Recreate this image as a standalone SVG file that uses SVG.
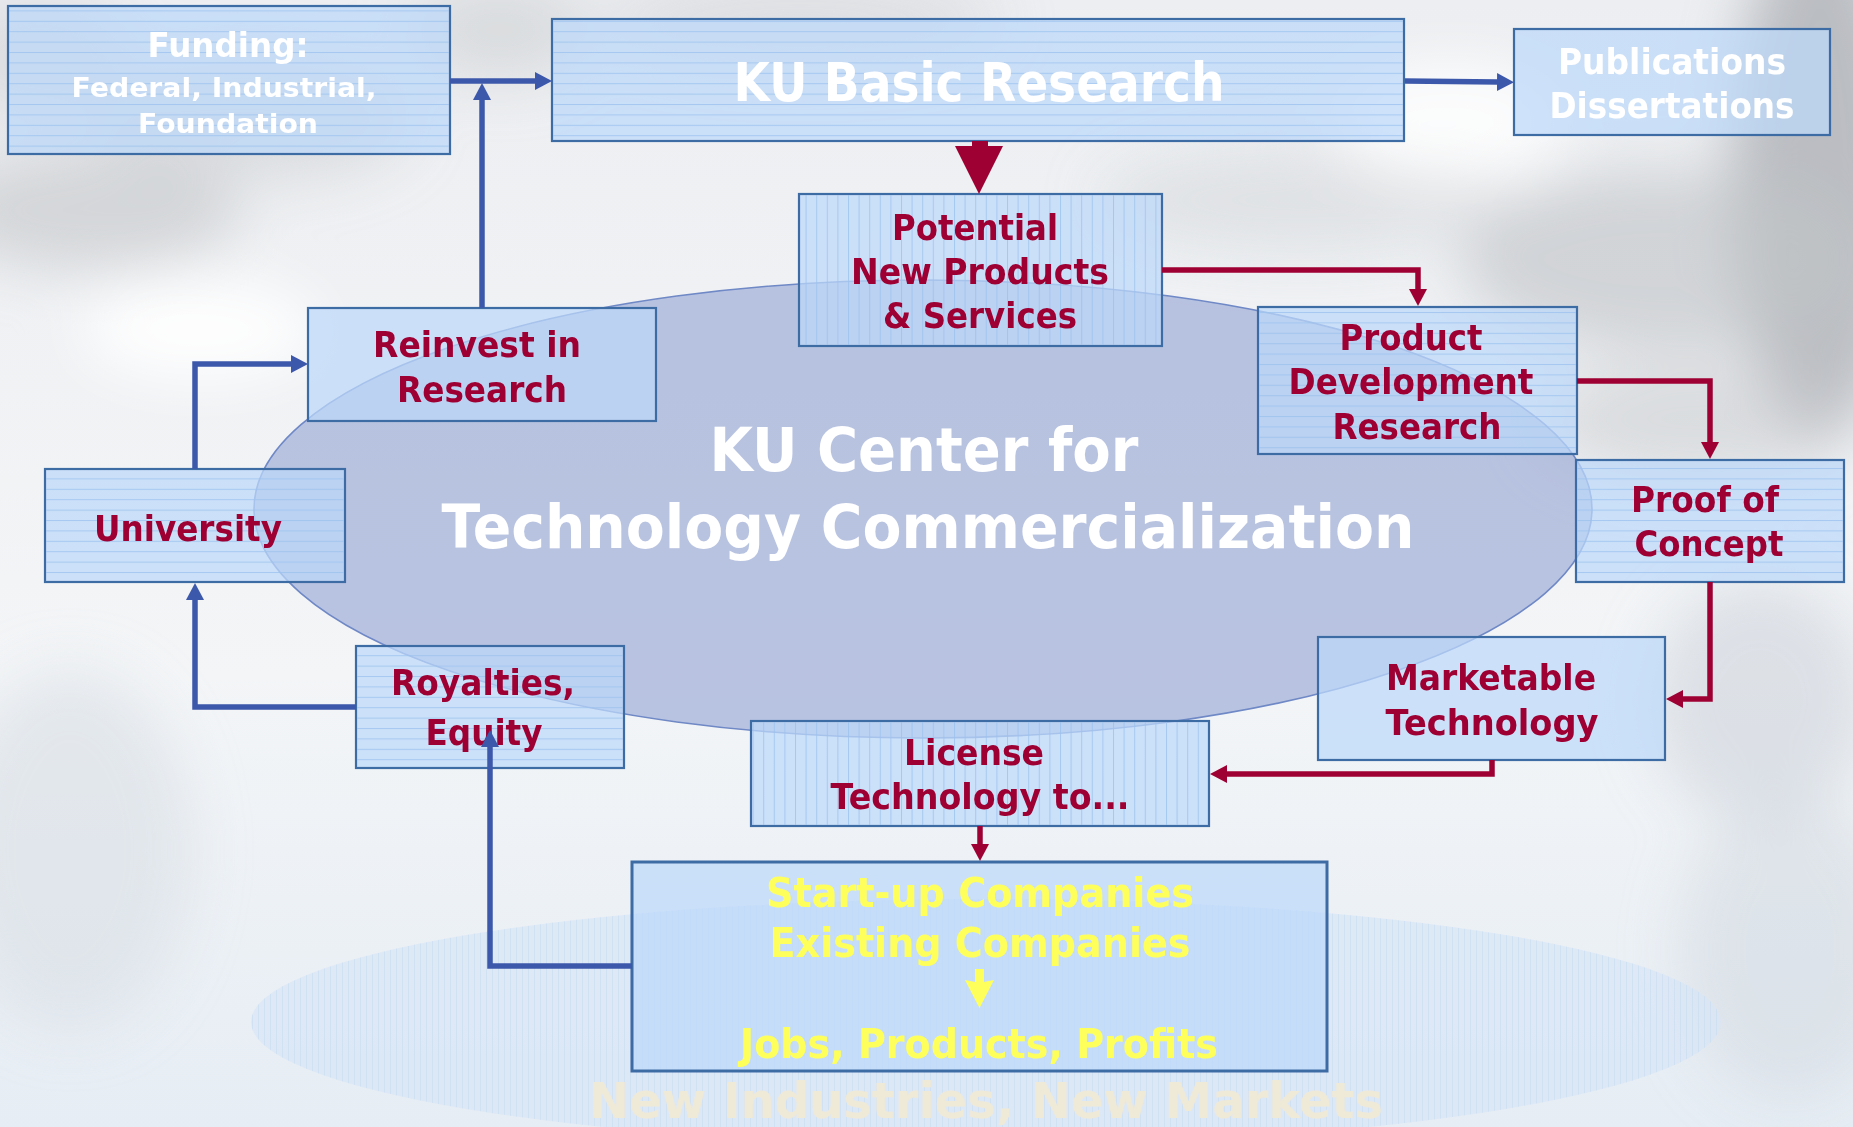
<svg xmlns="http://www.w3.org/2000/svg" width="1853" height="1127" viewBox="0 0 1853 1127">
<defs>
<style>
.box{fill:#bcd8fa;fill-opacity:.72;stroke:#3d6ba3;stroke-width:2.2}
.hs{fill:url(#hs);stroke:none}
.vs{fill:url(#vs);stroke:none}
.t{font-family:"DejaVu Sans","Liberation Sans",sans-serif;font-weight:bold;text-anchor:middle}
.red{fill:#9e0033}
.wh{fill:#ffffff}
.yl{fill:#ffff5c}
.bl{fill:none;stroke:#3c58ab;stroke-width:5.5;stroke-linejoin:miter}
.rd{fill:none;stroke:#9e0033;stroke-width:5.5;stroke-linejoin:miter}
</style>
<pattern id="hs" width="20" height="10.4" patternUnits="userSpaceOnUse">
<line x1="0" y1="0.5" x2="20" y2="0.5" stroke="#9cc2ee" stroke-width="1" stroke-opacity=".8"/>
</pattern>
<pattern id="vs" width="10.6" height="20" patternUnits="userSpaceOnUse">
<line x1="0.5" y1="0" x2="0.5" y2="20" stroke="#9cc2ee" stroke-width="1" stroke-opacity=".8"/>
</pattern>
<pattern id="vs2" width="6" height="20" patternUnits="userSpaceOnUse">
<line x1="0.5" y1="0" x2="0.5" y2="20" stroke="#c4daf2" stroke-width="1" stroke-opacity=".5"/>
</pattern>
<filter id="blur" x="-50%" y="-50%" width="200%" height="200%"><feGaussianBlur stdDeviation="28"/></filter>
<linearGradient id="sky" x1="0" y1="0" x2="0" y2="1">
<stop offset="0" stop-color="#eceef1"/>
<stop offset="0.6" stop-color="#f3f5f7"/>
<stop offset="1" stop-color="#e6edf4"/>
</linearGradient>
<marker id="ab" viewBox="0 0 17 18" markerWidth="17" markerHeight="18" refX="1" refY="9" orient="auto" markerUnits="userSpaceOnUse">
<path d="M0,0 L17,9 L0,18 Z" fill="#3c58ab"/>
</marker>
<marker id="ar" viewBox="0 0 17 18" markerWidth="17" markerHeight="18" refX="1" refY="9" orient="auto" markerUnits="userSpaceOnUse">
<path d="M0,0 L17,9 L0,18 Z" fill="#9e0033"/>
</marker>
</defs>

<!-- background sky -->
<g id="background">
<rect width="1853" height="1127" fill="url(#sky)"/>
<g filter="url(#blur)">
<ellipse cx="90" cy="210" rx="150" ry="60" fill="#c3c4c8" opacity=".6"/>
<ellipse cx="250" cy="120" rx="160" ry="60" fill="#c8cacd" opacity=".5"/>
<ellipse cx="40" cy="60" rx="90" ry="60" fill="#cbccd0" opacity=".5"/>
<ellipse cx="500" cy="30" rx="90" ry="50" fill="#c8c9cc" opacity=".5"/>
<ellipse cx="800" cy="20" rx="200" ry="40" fill="#cfd0d3" opacity=".5"/>
<ellipse cx="1820" cy="180" rx="90" ry="260" fill="#aeb0b5" opacity=".8"/>
<ellipse cx="1660" cy="260" rx="200" ry="90" fill="#c2c4c8" opacity=".65"/>
<ellipse cx="1700" cy="420" rx="160" ry="60" fill="#c8cacd" opacity=".55"/>
<ellipse cx="1300" cy="200" rx="200" ry="50" fill="#cfd1d4" opacity=".45"/>
<ellipse cx="1760" cy="700" rx="110" ry="120" fill="#cbd0d8" opacity=".55"/>
<ellipse cx="70" cy="850" rx="120" ry="180" fill="#d7dde4" opacity=".55"/>
<ellipse cx="1790" cy="950" rx="110" ry="150" fill="#d1d8e0" opacity=".55"/>
<ellipse cx="200" cy="330" rx="120" ry="50" fill="#ffffff" opacity=".9"/>
<ellipse cx="1450" cy="120" rx="120" ry="60" fill="#ffffff" opacity=".8"/>
</g>
</g>

<!-- bottom ellipse -->
<g id="markets">
<ellipse cx="986" cy="1022" rx="735" ry="123" fill="#d8e6f7" fill-opacity=".7"/>
<ellipse cx="986" cy="1022" rx="735" ry="123" fill="url(#vs2)"/>
<text class="t" x="986" y="1118" font-size="49" textLength="794" lengthAdjust="spacingAndGlyphs" fill="#efe9d8">New Industries, New Markets</text>
</g>

<!-- central ellipse -->
<g id="center">
<ellipse cx="923" cy="509" rx="669" ry="229" fill="#95a5d3" fill-opacity=".62" stroke="#6f88c6" stroke-width="1.6"/>
<text class="t wh" x="924" y="471" font-size="61" textLength="429" lengthAdjust="spacingAndGlyphs">KU Center for</text>
<text class="t wh" x="928" y="548" font-size="61" textLength="973" lengthAdjust="spacingAndGlyphs">Technology Commercialization</text>
</g>

<!-- nodes -->
<g id="funding">
<rect class="box" x="8" y="6" width="442" height="148"/>
<rect class="hs" x="9" y="7" width="440" height="146"/>
<text class="t wh" x="228" y="57" font-size="34" textLength="161" lengthAdjust="spacingAndGlyphs">Funding:</text>
<text class="t wh" x="224" y="97" font-size="26" textLength="305" lengthAdjust="spacingAndGlyphs">Federal, Industrial,</text>
<text class="t wh" x="228" y="133" font-size="26" textLength="180" lengthAdjust="spacingAndGlyphs">Foundation</text>
</g>

<g id="basic-research">
<rect class="box" x="552" y="19" width="852" height="122"/>
<rect class="hs" x="553" y="20" width="850" height="120"/>
<text class="t wh" x="979" y="101" font-size="53" textLength="491" lengthAdjust="spacingAndGlyphs">KU Basic Research</text>
</g>

<g id="publications">
<rect class="box" x="1514" y="29" width="316" height="106"/>
<text class="t wh" x="1672" y="74" font-size="36" textLength="228" lengthAdjust="spacingAndGlyphs">Publications</text>
<text class="t wh" x="1672" y="118" font-size="36" textLength="245" lengthAdjust="spacingAndGlyphs">Dissertations</text>
</g>

<g id="potential">
<rect class="box" x="799" y="194" width="363" height="152"/>
<rect class="vs" x="800" y="195" width="361" height="150"/>
<text class="t red" x="975" y="240" font-size="35" textLength="166" lengthAdjust="spacingAndGlyphs">Potential</text>
<text class="t red" x="980" y="284" font-size="35" textLength="258" lengthAdjust="spacingAndGlyphs">New Products</text>
<text class="t red" x="980" y="328" font-size="35" textLength="194" lengthAdjust="spacingAndGlyphs">&amp; Services</text>
</g>

<g id="reinvest">
<rect class="box" x="308" y="308" width="348" height="113"/>
<text class="t red" x="477" y="357" font-size="35" textLength="208" lengthAdjust="spacingAndGlyphs">Reinvest in</text>
<text class="t red" x="482" y="402" font-size="35" textLength="170" lengthAdjust="spacingAndGlyphs">Research</text>
</g>

<g id="product-development">
<rect class="box" x="1258" y="307" width="319" height="147"/>
<rect class="hs" x="1259" y="308" width="317" height="145"/>
<text class="t red" x="1411" y="350" font-size="35" textLength="143" lengthAdjust="spacingAndGlyphs">Product</text>
<text class="t red" x="1411" y="394" font-size="35" textLength="245" lengthAdjust="spacingAndGlyphs">Development</text>
<text class="t red" x="1417" y="439" font-size="35" textLength="169" lengthAdjust="spacingAndGlyphs">Research</text>
</g>

<g id="university">
<rect class="box" x="45" y="469" width="300" height="113"/>
<rect class="hs" x="46" y="470" width="298" height="111"/>
<text class="t red" x="188" y="541" font-size="35" textLength="188" lengthAdjust="spacingAndGlyphs">University</text>
</g>

<g id="proof">
<rect class="box" x="1576" y="460" width="268" height="122"/>
<rect class="hs" x="1577" y="461" width="266" height="120"/>
<text class="t red" x="1705" y="512" font-size="35" textLength="148" lengthAdjust="spacingAndGlyphs">Proof of</text>
<text class="t red" x="1709" y="556" font-size="35" textLength="149" lengthAdjust="spacingAndGlyphs">Concept</text>
</g>

<g id="royalties">
<rect class="box" x="356" y="646" width="268" height="122"/>
<rect class="hs" x="357" y="647" width="266" height="120"/>
<text class="t red" x="483" y="695" font-size="35" textLength="184" lengthAdjust="spacingAndGlyphs">Royalties,</text>
<text class="t red" x="484" y="745" font-size="35" textLength="117" lengthAdjust="spacingAndGlyphs">Equity</text>
</g>

<g id="marketable">
<rect class="box" x="1318" y="637" width="347" height="123"/>
<text class="t red" x="1491" y="690" font-size="35" textLength="210" lengthAdjust="spacingAndGlyphs">Marketable</text>
<text class="t red" x="1492" y="735" font-size="35" textLength="213" lengthAdjust="spacingAndGlyphs">Technology</text>
</g>

<g id="license">
<rect class="box" x="751" y="721" width="458" height="105"/>
<rect class="vs" x="752" y="722" width="456" height="103"/>
<text class="t red" x="974" y="765" font-size="35" textLength="140" lengthAdjust="spacingAndGlyphs">License</text>
<text class="t red" x="980" y="809" font-size="35" textLength="299" lengthAdjust="spacingAndGlyphs">Technology to...</text>
</g>

<g id="companies">
<rect class="box" x="632" y="862" width="695" height="209" style="stroke-width:3"/>
<text class="t yl" x="980" y="907" font-size="41" textLength="428" lengthAdjust="spacingAndGlyphs">Start-up Companies</text>
<text class="t yl" x="980" y="957" font-size="41" textLength="421" lengthAdjust="spacingAndGlyphs">Existing Companies</text>
<path d="M975,969 H984 V982 L994,980 L979.5,1008 L965,980 L975,982 Z" fill="#ffff5c"/>
<text class="t yl" x="979" y="1058" font-size="41" textLength="478" lengthAdjust="spacingAndGlyphs">Jobs, Products, Profits</text>
</g>

<!-- connectors -->
<g id="connectors">
<path class="bl" d="M450,81 H536" marker-end="url(#ab)"/>
<path class="bl" d="M482,308 V99" marker-end="url(#ab)"/>
<path class="bl" d="M1405,81 L1498,82" marker-end="url(#ab)"/>
<path class="bl" d="M195,469 V364 H292" marker-end="url(#ab)"/>
<path class="bl" d="M356,707 H195 V599" marker-end="url(#ab)"/>
<path class="bl" d="M632,966 H490 V746" marker-end="url(#ab)"/>
<path d="M972,141 H988 V146 H1003 L979,194 L955,146 H972 Z" fill="#9e0033"/>
<path class="rd" d="M1162,270 H1418 V290" marker-end="url(#ar)"/>
<path class="rd" d="M1577,381 H1710 V443" marker-end="url(#ar)"/>
<path class="rd" d="M1710,582 V699 H1682" marker-end="url(#ar)"/>
<path class="rd" d="M1492,760 V774 H1226" marker-end="url(#ar)"/>
<path class="rd" d="M980,826 V845" marker-end="url(#ar)"/>
</g>
</svg>
